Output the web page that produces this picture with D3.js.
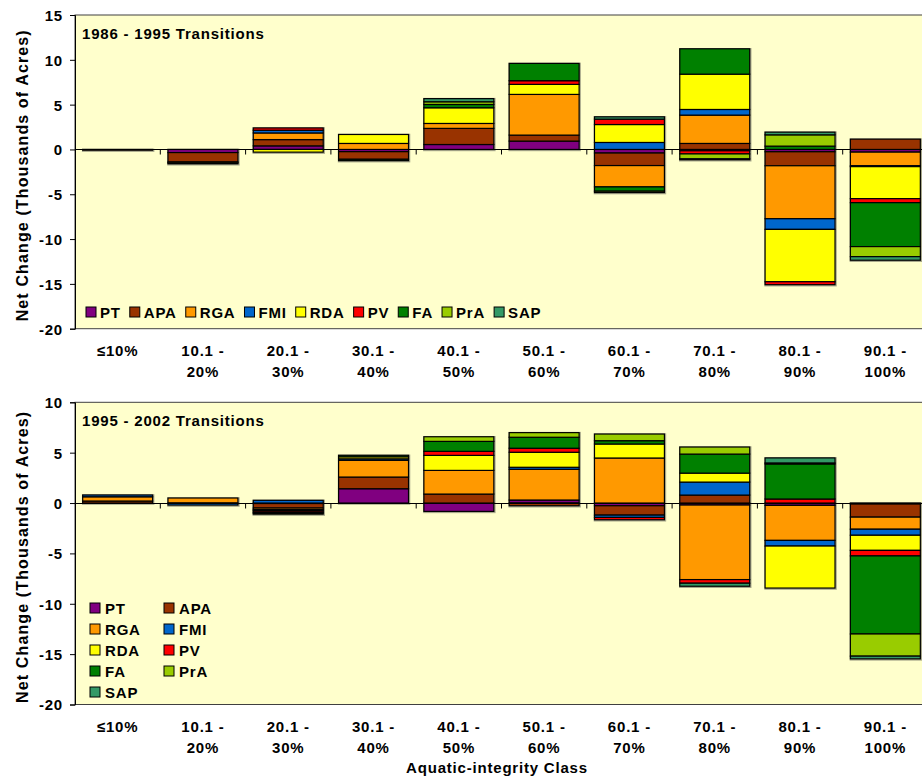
<!DOCTYPE html>
<html>
<head>
<meta charset="utf-8">
<script src="https://cdn.jsdelivr.net/npm/d3@7"></script>
<style>
  html, body { margin: 0; padding: 0; background: #ffffff; }
  svg { display: block; }
  text { font-family: "Liberation Sans", Arial, sans-serif; font-weight: bold; font-size: 15px; fill: #000; letter-spacing: 0.8px; }
</style>
</head>
<body>
<svg id="chart" width="922" height="780"></svg>
<script>
// ---------- Data ----------
const categories = ["≤10%", "10.1 - 20%", "20.1 - 30%", "30.1 - 40%", "40.1 - 50%",
                    "50.1 - 60%", "60.1 - 70%", "70.1 - 80%", "80.1 - 90%", "90.1 - 100%"];
const categoryLines = [["≤10%"], ["10.1 -", "20%"], ["20.1 -", "30%"], ["30.1 -", "40%"], ["40.1 -", "50%"],
                       ["50.1 -", "60%"], ["60.1 -", "70%"], ["70.1 -", "80%"], ["80.1 -", "90%"], ["90.1 -", "100%"]];
const seriesNames = ["PT", "APA", "RGA", "FMI", "RDA", "PV", "FA", "PrA", "SAP"];
const seriesColors = ["#800080", "#993300", "#FF9900", "#0066CC", "#FFFF00", "#FF0000", "#008000", "#99CC00", "#339966"];

// 1986 - 1995 transitions (thousands of acres)
const p1_PT  = [0,     -0.35, 0.40, -0.25, 0.55, 0.93, -0.40, -0.15, -0.26, -0.30];
const p1_APA = [-0.08, -1.05, 0.70, -0.85, 1.80, 0.67, -1.40,  0.67, -1.56,  1.15];
const p1_RGA = [0,     -0.10, 0.74,  0.67, 0.55, 4.54, -2.38,  3.16, -5.91, -1.52];
const p1_FMI = [0,      0,    0.30,  0,    0,    0,     0.78,  0.63, -1.19, -0.10];
const p1_RDA = [0,     -0.10,-0.30,  1.00, 1.75, 1.12,  2.00,  3.94, -5.84, -3.57];
const p1_PV  = [0,      0,    0.26,  0,    0,    0.41,  0.60, -0.35, -0.33, -0.45];
const p1_FA  = [0,      0,    0,    -0.15, 0.37, 1.93, -0.48,  2.83,  0.37, -4.90];
const p1_PrA = [0,      0,    0,     0,    0.30, 0,    -0.15, -0.55,  1.26, -1.12];
const p1_SAP = [0,      0,    0,     0,    0.35, 0,     0.26, -0.10,  0.30, -0.40];

// 1995 - 2002 transitions (thousands of acres)
const p2_PT  = [0,     0,    -0.05, 1.42, -0.83,  0.30, -0.27, -0.20, -0.23, -0.10];
const p2_APA = [0.20,  0,    -0.45, 1.16,  0.89, -0.27, -0.93,  0.79,  0,    -1.30];
const p2_RGA = [0.42,  0.50, -0.15, 1.66,  2.35,  3.05,  4.47, -7.40, -3.48, -1.20];
const p2_FMI = [0.18, -0.20,  0.27, 0.15,  0,     0.20, -0.23,  1.29, -0.56, -0.60];
const p2_RDA = [0,     0,    -0.10, 0.20,  1.49,  1.49,  1.39,  0.89, -4.17, -1.50];
const p2_PV  = [0,     0,    -0.15, 0,     0.40,  0.40, -0.23, -0.36,  0.40, -0.55];
const p2_FA  = [0,     0,    -0.10, 0.15,  0.99,  1.09,  0.33,  1.89,  3.48, -7.75];
const p2_PrA = [0,     0,    -0.10, 0,     0.46,  0.46,  0.66,  0.70,  0.10, -2.20];
const p2_SAP = [0,     0,     0,    0,     0,     0,     0,    -0.30,  0.50, -0.27];

const yTicksTop = [15, 10, 5, 0, -5, -10, -15, -20];
const yTicksBottom = [10, 5, 0, -5, -10, -15, -20];
const xAxisTitle = "Aquatic-integrity Class";
const yAxisTitle = "Net Change (Thousands of Acres)";

// ---------- Drawing ----------
const svg = d3.select("#chart");
const plotLeft = 75, plotRight = 928;

function drawPanel(cfg) {
  const g = svg.append("g");
  const x = d3.scaleBand().domain(categories).range([plotLeft, plotRight])
              .paddingInner(0.18).paddingOuter(0.09);
  const y = d3.scaleLinear().domain(cfg.domain).range([cfg.bottom, cfg.top]);

  // plot background
  g.append("rect").attr("x", plotLeft).attr("y", cfg.top)
    .attr("width", plotRight - plotLeft).attr("height", cfg.bottom - cfg.top)
    .attr("fill", "#FFFFCC").attr("stroke", "#404040").attr("stroke-width", 1);

  // rows for stacking
  const rows = categories.map((c, i) => {
    const r = { cat: c };
    seriesNames.forEach((s, k) => { r[s] = cfg.values[k][i]; });
    return r;
  });
  const stacked = d3.stack().keys(seriesNames).offset(d3.stackOffsetDiverging)(rows);

  // soft shadow around each column
  const extents = rows.map((r, i) => {
    let lo = 0, hi = 0;
    stacked.forEach(layer => { lo = Math.min(lo, layer[i][0], layer[i][1]); hi = Math.max(hi, layer[i][0], layer[i][1]); });
    return { cat: r.cat, lo, hi };
  });
  g.append("g").selectAll("rect").data(extents.filter(e => e.hi - e.lo > 0)).join("rect")
    .attr("x", d => x(d.cat) + 0.5).attr("y", d => y(d.hi) + 0.5)
    .attr("width", x.bandwidth()).attr("height", d => y(d.lo) - y(d.hi))
    .attr("fill", "none").attr("stroke", "rgba(60,60,60,0.45)").attr("stroke-width", 2.5);

  // stacked bars
  g.append("g").selectAll("g").data(stacked).join("g")
    .attr("fill", (d, i) => seriesColors[i])
    .selectAll("rect").data(d => d.filter(p => p[1] !== p[0])).join("rect")
    .attr("x", d => x(d.data.cat))
    .attr("y", d => y(Math.max(d[0], d[1])))
    .attr("width", x.bandwidth())
    .attr("height", d => Math.abs(y(d[0]) - y(d[1])))
    .attr("stroke", "#000").attr("stroke-width", 1.2);

  // zero line with category ticks
  const y0 = Math.round(y(0)) + 0.5;
  g.append("line").attr("x1", plotLeft).attr("x2", plotRight).attr("y1", y0).attr("y2", y0)
    .attr("stroke", "#000").attr("stroke-width", 1);
  const step = x.step();
  g.append("g").selectAll("line").data(d3.range(1, categories.length)).join("line")
    .attr("x1", k => plotLeft + k * step).attr("x2", k => plotLeft + k * step)
    .attr("y1", y0).attr("y2", y0 + 5).attr("stroke", "#000").attr("stroke-width", 1);

  // y axis
  const yAxis = d3.axisLeft(y).tickValues(cfg.ticks).tickSize(5).tickFormat(d => String(d));
  const ya = g.append("g").attr("transform", `translate(${plotLeft},0)`).call(yAxis);
  ya.select(".domain").attr("stroke", "#000");
  ya.selectAll(".tick line").attr("stroke", "#000");
  ya.selectAll(".tick text").attr("font-family", null).attr("font-size", null)
    .attr("x", -12).attr("dy", "0.36em").style("font-size", "15px");

  // category labels
  const lab = g.append("g").selectAll("text").data(categories).join("text")
    .attr("text-anchor", "middle")
    .attr("transform", d => `translate(${x(d) + x.bandwidth() / 2},${cfg.bottom + 27})`);
  lab.selectAll("tspan").data((d, i) => categoryLines[i]).join("tspan")
    .attr("x", 0).attr("y", (d, j) => j * 21.5).text(d => d);

  // panel title
  g.append("text").attr("x", 82).attr("y", cfg.top + 24).text(cfg.title);

  // y-axis title
  g.append("text").attr("text-anchor", "middle")
    .attr("transform", `translate(28,${(cfg.top + cfg.bottom) / 2 + 4}) rotate(-90)`)
    .attr("textLength", 291).attr("lengthAdjust", "spacing")
    .style("letter-spacing", "0px").style("font-size", "16px")
    .text(yAxisTitle);

  // legend
  const leg = g.append("g");
  if (cfg.legend === "row") {
    let cx = 86;
    const cy = cfg.legendY;
    seriesNames.forEach((s, k) => {
      leg.append("rect").attr("x", cx).attr("y", cy - 5).attr("width", 10).attr("height", 10)
        .attr("fill", seriesColors[k]).attr("stroke", "#000").attr("stroke-width", 1);
      const t = leg.append("text").attr("x", cx + 14).attr("y", cy + 5.5).text(s);
      cx += 14 + t.node().getComputedTextLength() + 9;
    });
  } else {
    seriesNames.forEach((s, k) => {
      const col = k % 2, row = Math.floor(k / 2);
      const lx = 90 + col * 74, ly = cfg.legendY + row * 21;
      leg.append("rect").attr("x", lx).attr("y", ly - 5).attr("width", 10).attr("height", 10)
        .attr("fill", seriesColors[k]).attr("stroke", "#000").attr("stroke-width", 1);
      leg.append("text").attr("x", lx + 15).attr("y", ly + 5.5).text(s);
    });
  }
}

drawPanel({
  title: "1986 - 1995 Transitions",
  domain: [-20, 15], top: 15, bottom: 328.7, ticks: yTicksTop,
  values: [p1_PT, p1_APA, p1_RGA, p1_FMI, p1_RDA, p1_PV, p1_FA, p1_PrA, p1_SAP],
  legend: "row", legendY: 312
});
drawPanel({
  title: "1995 - 2002 Transitions",
  domain: [-20, 10], top: 402.3, bottom: 704.5, ticks: yTicksBottom,
  values: [p2_PT, p2_APA, p2_RGA, p2_FMI, p2_RDA, p2_PV, p2_FA, p2_PrA, p2_SAP],
  legend: "grid", legendY: 608
});

// x-axis title
svg.append("text").attr("x", 497).attr("y", 773).attr("text-anchor", "middle").text(xAxisTitle);
</script>
</body>
</html>
